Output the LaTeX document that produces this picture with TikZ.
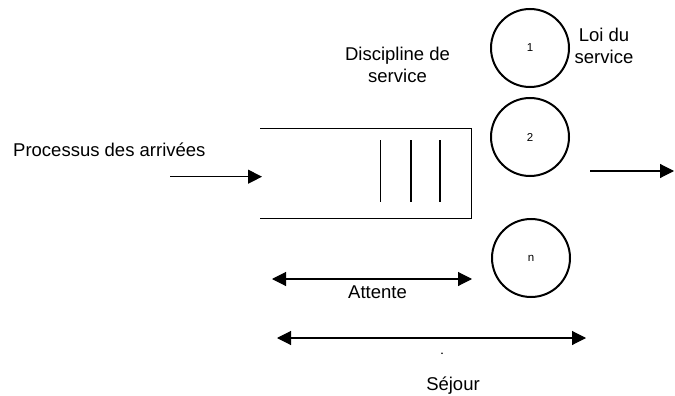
\documentclass[tikz,border=0pt]{standalone}
\usepackage{fontspec}
\setmainfont{Liberation Sans}
\usetikzlibrary{arrows.meta}
\tikzset{
  lbl/.style={font=\fontsize{18.5}{22}\selectfont, inner sep=0pt, align=center},
  srv/.style={draw, circle, line width=2pt, minimum size=78pt, inner sep=0pt, font=\fontsize{11.5}{13}\selectfont},
  ln/.style={line width=1.1pt},
  arr/.style={ln, -{Triangle[length=14pt,width=14pt]}},
  darr/.style={ln, {Triangle[length=14pt,width=14pt]}-{Triangle[length=14pt,width=14pt]}}
}
\begin{document}
\begin{tikzpicture}[x=1pt,y=-1pt]
\useasboundingbox (0,0) rectangle (675,396);
% queue box (open on the left)
\coordinate (qtl) at (260,128.5);
\coordinate (qtr) at (471.5,128.5);
\coordinate (qbr) at (471.5,218.5);
\coordinate (qbl) at (260,218.5);
\draw[ln] (qtl) -- (qtr) -- (qbr) -- (qbl);
% slots
\foreach \x/\n in {380.7/a,411/b,440/c}{
  \coordinate (s\n t) at (\x,140);
  \coordinate (s\n b) at (\x,202);
  \draw[ln] (s\n t) -- (s\n b);
}
% servers
\node[srv] (c1) at (530,48) {1};
\node[srv] (c2) at (530,137) {2};
\node[srv] (cn) at (531,258) {n};
% labels
\node[lbl, anchor=base west] (proc) at (13,156) {Processus des arrivées};
\node[lbl, anchor=base] (disc) at (397.5,83) {Discipline de\\service};
\node[lbl, anchor=base] (loi) at (604,63.3) {Loi du\\service};
\node[lbl, anchor=base] (att) at (377.5,298) {Attente};
\node[lbl, anchor=base] (sej) at (453,390) {Séjour};
\fill (442,353.3) circle (0.9pt);
% arrows
\coordinate (ain) at (170,176.7);
\coordinate (aend) at (262,176.7);
\draw[arr] (ain) -- (aend);
\coordinate (oin) at (590,171);
\coordinate (oend) at (674,171);
\draw[arr] (oin) -- (oend);
\coordinate (atl) at (272,279);
\coordinate (atr) at (472,279);
\draw[darr] (atl) -- (atr);
\coordinate (sjl) at (277,338);
\coordinate (sjr) at (586,338);
\draw[darr] (sjl) -- (sjr);
\end{tikzpicture}
\end{document}
